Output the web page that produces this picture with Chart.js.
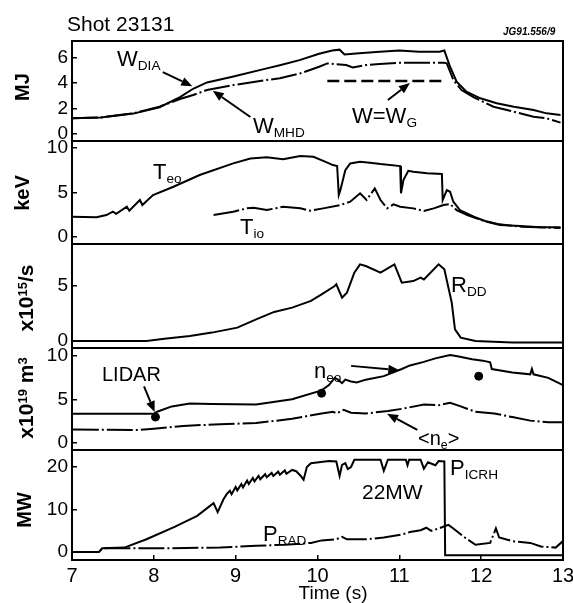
<!DOCTYPE html>
<html><head><meta charset="utf-8">
<script src="https://cdn.jsdelivr.net/npm/chart.js@4.4.1/dist/chart.umd.min.js"></script>
<style>
html,body{margin:0;padding:0;background:#fff;}
#wrap{position:relative;width:573px;height:603px;overflow:hidden;background:#fff;font-family:"Liberation Sans",Arial,Helvetica,sans-serif;color:#000;}
canvas{position:absolute;left:0;}
.t{position:absolute;white-space:nowrap;line-height:1;font-size:21px;}
.yt{position:absolute;white-space:nowrap;line-height:1;font-weight:bold;font-size:20px;transform:translate(-50%,-50%) rotate(-90deg);}
.t sub{font-size:0.62em;vertical-align:-0.3em;}
.yt sup{font-size:0.62em;vertical-align:0.45em;}
</style></head>
<body><div id="wrap">
<canvas id="c1"></canvas><canvas id="c2"></canvas><canvas id="c3"></canvas><canvas id="c4"></canvas><canvas id="c5"></canvas>
<div class="t" style="left:67px;top:13px;font-size:21px;">Shot 23131</div>
<div class="t" style="left:503px;top:27px;font-size:10px;font-weight:bold;font-style:italic;">JG91.556/9</div>
<div class="t" style="left:117px;top:48px;font-size:22px;">W<sub>DIA</sub></div>
<div class="t" style="left:253px;top:115px;font-size:22px;">W<sub>MHD</sub></div>
<div class="t" style="left:352px;top:105px;font-size:22px;">W=W<sub>G</sub></div>
<div class="t" style="left:153px;top:161px;font-size:22px;">T<sub>eo</sub></div>
<div class="t" style="left:240px;top:216px;font-size:22px;">T<sub>io</sub></div>
<div class="t" style="left:451px;top:274px;font-size:22px;">R<sub>DD</sub></div>
<div class="t" style="left:102px;top:364px;font-size:20px;">LIDAR</div>
<div class="t" style="left:314px;top:360px;font-size:22px;">n<sub>eo</sub></div>
<div class="t" style="left:418px;top:428px;font-size:20px;">&lt;n<sub>e</sub>&gt;</div>
<div class="t" style="left:450px;top:457px;font-size:22px;">P<sub>ICRH</sub></div>
<div class="t" style="left:362px;top:481px;font-size:21px;">22MW</div>
<div class="t" style="left:263px;top:523px;font-size:22px;">P<sub>RAD</sub></div>
<div class="t" style="left:333px;top:583px;font-size:19px;transform:translateX(-50%);">Time (s)</div>
<div class="yt" style="left:22px;top:87px;">MJ</div>
<div class="yt" style="left:22px;top:193px;">keV</div>
<div class="yt" style="left:25px;top:298px;font-size:21px;">x10<sup>15</sup>/s</div>
<div class="yt" style="left:25px;top:398px;font-size:21px;">x10<sup>19</sup> m<sup>3</sup></div>
<div class="yt" style="left:24px;top:510px;">MW</div>
</div>
<script>
// ---------------- data ----------------
const xTicks = [7, 8, 9, 10, 11, 12, 13];
const mjTicks = [0, 2, 4, 6];
const kevTicks = [0, 5, 10];
const rddTicks = [0, 5];
const neTicks = [0, 5, 10];
const mwTicks = [0, 10, 20];

const wDiaT = [7.0,7.35,7.75,8.07,8.32,8.48,8.65,8.96,9.38,9.54,9.78,10.02,10.18,10.27,10.33,10.51,10.76,11.0,11.24,11.49,11.55,11.62,11.70,11.82,11.99,12.19,12.40,12.64,12.80,12.97];
const wDiaV = [1.24,1.30,1.60,2.10,2.90,3.55,4.05,4.50,5.15,5.40,5.80,6.30,6.55,6.62,6.25,6.33,6.45,6.55,6.45,6.45,6.55,5.28,4.10,3.32,2.80,2.41,2.14,1.88,1.62,1.49];
const wMhdT = [7.0,7.35,7.75,8.07,8.32,8.48,8.65,8.97,9.38,9.54,9.79,10.02,10.12,10.35,10.43,10.59,10.76,11.0,11.55,11.58,11.66,11.76,11.91,12.15,12.40,12.64,12.80,12.97];
const wMhdV = [1.24,1.30,1.62,2.15,2.75,3.06,3.45,3.84,4.24,4.37,4.76,5.28,5.54,5.41,5.23,5.41,5.49,5.59,5.59,5.55,4.24,3.45,2.88,2.14,1.75,1.36,1.23,0.89];
const wgT = [10.12, 11.53];
const wgV = [4.16, 4.16];

const teT = [7.0,7.30,7.42,7.50,7.54,7.67,7.70,7.83,7.86,7.99,8.24,8.56,8.97,9.18,9.38,9.58,9.79,9.95,10.07,10.19,10.24,10.26,10.28,10.34,10.40,10.52,10.64,10.77,11.01,11.02,11.05,11.11,11.17,11.34,11.52,11.53,11.58,11.62,11.66,11.74,11.91,12.07,12.23,12.48,12.72,12.97];
const teV = [2.28,2.21,2.47,2.85,2.60,3.40,2.96,4.16,3.60,4.72,5.65,6.97,8.28,8.84,8.96,8.75,9.10,9.02,8.57,8.09,7.98,4.72,5.28,7.53,8.28,8.46,8.35,8.20,7.98,4.91,6.40,7.45,7.34,7.16,7.08,4.16,5.28,5.09,3.97,3.03,2.28,1.72,1.35,1.24,1.09,1.09];
const tiT = [8.73,8.97,9.14,9.22,9.38,9.58,9.79,9.91,10.07,10.28,10.40,10.52,10.60,10.70,10.77,10.85,10.93,11.01,11.17,11.30,11.42,11.54,11.62,11.70,11.83,12.0,12.2,12.5,12.97];
const tiV = [2.47,2.84,3.22,3.29,3.03,3.40,3.22,2.96,3.22,3.60,3.97,4.91,4.16,5.47,4.16,3.22,3.67,3.40,3.22,2.92,3.22,3.60,3.71,3.03,2.47,1.90,1.45,1.15,1.00];

const rddT = [7.01,7.91,8.13,8.44,8.71,9.02,9.25,9.47,9.69,9.92,10.05,10.21,10.23,10.30,10.36,10.45,10.52,10.59,10.77,10.94,11.03,11.17,11.26,11.30,11.48,11.55,11.64,11.68,11.75,11.93,12.38,13.0];
const rddV = [0,0,0.21,0.45,0.76,1.21,1.97,2.64,3.03,3.64,4.24,5.0,5.15,3.94,4.39,6.21,6.97,6.82,6.21,6.97,5.3,5.45,5.76,5.6,6.97,6.52,3.5,1.06,0.3,0,-0.15,-0.15];

const ne0T = [7.0,8.0,8.04,8.22,8.44,8.71,9.25,9.69,10.05,10.14,10.21,10.25,10.30,10.34,10.41,10.48,10.59,10.81,11.03,11.13,11.30,11.44,11.62,11.71,11.89,12.02,12.11,12.13,12.38,12.60,12.62,12.64,12.82,13.0];
const ne0V = [3.35,3.35,3.59,4.2,4.53,4.49,4.41,5.02,6.04,6.65,7.47,7.27,6.86,7.27,7.06,6.94,7.27,7.67,8.49,8.90,9.31,9.71,10.1,9.95,9.6,9.45,9.25,8.49,8.08,7.88,8.49,7.88,7.47,6.65];
const lidarT = [8.02, 10.05, 11.97];
const lidarV = [2.98, 5.71, 7.67];
const neAvT = [7.01,7.82,8.0,8.36,8.81,9.25,9.69,10.05,10.19,10.23,10.32,10.41,10.59,10.86,11.03,11.30,11.48,11.62,11.75,11.93,12.16,12.38,12.60,12.82,13.0];
const neAvV = [1.55,1.5,1.63,1.96,2.16,2.29,2.78,3.39,3.59,3.39,3.8,3.47,3.39,3.67,3.92,4.41,4.33,4.61,4.2,3.59,3.39,2.98,2.57,2.37,2.37];

const picrhT = [7.0,7.33,7.37,7.64,7.91,8.26,8.53,8.73,8.78,8.85,8.89,8.93,8.95,9.0,9.02,9.07,9.09,9.14,9.16,9.21,9.23,9.28,9.30,9.36,9.38,9.44,9.46,9.52,9.54,9.60,9.62,9.69,9.74,9.79,9.83,9.87,9.92,10.14,10.23,10.27,10.30,10.34,10.37,10.41,10.45,10.77,10.81,10.86,11.08,11.10,11.12,11.26,11.30,11.35,11.44,11.48,11.55,11.56,11.62,13.0];
const picrhV = [0,0,0.85,1.02,2.98,5.96,8.51,11.49,9.36,12.34,13.6,14.4,13.6,15.3,14.5,16.0,15.2,16.8,16.0,17.4,16.6,17.9,17.1,18.3,17.6,18.6,17.9,18.9,18.2,19.2,18.4,19.3,19.0,18.0,17.0,20.0,20.9,21.4,21.3,17.9,20.5,20.9,19.5,20.0,21.7,21.7,19.1,21.7,21.7,20.4,21.7,21.7,19.6,21.1,20.4,21.4,21.3,-0.8,-0.8,-0.8];
const pradT = [7.0,7.33,7.37,7.91,8.09,8.81,9.25,9.60,9.92,10.05,10.23,10.30,10.36,10.59,10.81,11.03,11.13,11.26,11.33,11.39,11.48,11.60,11.66,11.80,11.93,12.11,12.18,12.22,12.38,12.60,12.73,12.91,13.0];
const pradV = [0,0,0.85,0.85,0.85,1.02,1.45,1.70,2.13,2.72,2.98,3.57,2.98,2.98,3.40,4.09,4.68,5.11,5.70,4.94,5.53,6.38,5.53,3.40,1.70,2.13,5.53,3.40,2.55,2.13,1.28,1.02,2.55];

// ---------------- layout / style ----------------
Chart.defaults.font.family = "'Liberation Sans', Arial, Helvetica, sans-serif";
Chart.defaults.color = '#000';
Chart.defaults.animation = false;

const panels = [
  {id:'c1', top:41,  bottom:141, min:-0.55, max:7.3,  ticks:mjTicks},
  {id:'c2', top:141, bottom:244, min:-0.79, max:10.8, ticks:kevTicks},
  {id:'c3', top:244, bottom:348, min:-0.64, max:8.82, ticks:rddTicks},
  {id:'c4', top:348, bottom:450, min:-0.8,  max:10.9, ticks:neTicks},
  {id:'c5', top:450, bottom:560, min:-1.9,  max:24,   ticks:mwTicks}
];
const PAD = 14, LEFT = 72, RIGHT_PAD = 10, W = 573, H = 603;
const DASHDOT = [26, 3, 2, 3];

function zip(ts, vs) { return ts.map((t, i) => ({x: t, y: vs[i]})); }
function line(ts, vs, dash) {
  return {data: zip(ts, vs), borderColor: '#000', borderWidth: 2, borderDash: dash || [],
          pointRadius: 0, tension: 0, fill: false};
}
const framePlugin = {id: 'frame', afterDraw(chart) {
  const {ctx, chartArea: a} = chart;
  ctx.save(); ctx.strokeStyle = '#000'; ctx.lineWidth = 2;
  ctx.strokeRect(a.left, a.top, a.right - a.left, a.bottom - a.top); ctx.restore();
}};
function arrowPlugin(list) {
  return {id: 'arrows', afterDatasetsDraw(chart) {
    const xs = chart.scales.x, ys = chart.scales.y, ctx = chart.ctx;
    ctx.save(); ctx.strokeStyle = '#000'; ctx.fillStyle = '#000'; ctx.lineWidth = 2;
    list.forEach(a => {
      const x1 = xs.getPixelForValue(a[0]), y1 = ys.getPixelForValue(a[1]);
      const x2 = xs.getPixelForValue(a[2]), y2 = ys.getPixelForValue(a[3]);
      const ang = Math.atan2(y2 - y1, x2 - x1), L = 11, Wd = 4.5;
      const bx = x2 - L * Math.cos(ang), by = y2 - L * Math.sin(ang);
      ctx.beginPath(); ctx.moveTo(x1, y1); ctx.lineTo(bx, by); ctx.stroke();
      ctx.beginPath(); ctx.moveTo(x2, y2);
      ctx.lineTo(bx - Wd * Math.sin(ang), by + Wd * Math.cos(ang));
      ctx.lineTo(bx + Wd * Math.sin(ang), by - Wd * Math.cos(ang));
      ctx.closePath(); ctx.fill();
    });
    ctx.restore();
  }};
}

function makePanel(p, datasets, arrows, isLast) {
  const cv = document.getElementById(p.id);
  const top = p.top - PAD;
  const h = isLast ? (H - top) : (p.bottom - p.top + 2 * PAD);
  cv.width = W; cv.height = h; cv.style.top = top + 'px';
  cv.style.width = W + 'px'; cv.style.height = h + 'px';
  return new Chart(cv, {
    type: 'line',
    data: {datasets},
    options: {
      responsive: false, animation: false, devicePixelRatio: 1,
      layout: {padding: {top: PAD, bottom: isLast ? 0 : PAD, left: 0, right: RIGHT_PAD}},
      plugins: {legend: {display: false}, tooltip: {enabled: false}},
      scales: {
        x: {type: 'linear', min: 7, max: 13, display: isLast,
            afterBuildTicks: s => { s.ticks = xTicks.map(v => ({value: v})); },
            afterFit: s => { s.height = isLast ? (H - p.bottom) : 0; s.paddingLeft = 0; s.paddingRight = 0; },
            grid: {drawOnChartArea: false, tickLength: -5, lineWidth: 1.5, color: '#000'},
            border: {display: false},
            ticks: {font: {size: 20}, padding: 9, maxRotation: 0, autoSkip: false, color: '#000'}},
        y: {type: 'linear', min: p.min, max: p.max,
            afterBuildTicks: s => { s.ticks = p.ticks.map(v => ({value: v})); },
            afterFit: s => { s.width = LEFT; s.paddingTop = 0; s.paddingBottom = 0; },
            grid: {drawOnChartArea: false, tickLength: -5, lineWidth: 1.5, color: '#000'},
            border: {display: false},
            ticks: {font: {size: 19}, padding: 9, autoSkip: false, color: '#000'}}
      }
    },
    plugins: [framePlugin, arrowPlugin(arrows)]
  });
}

makePanel(panels[0], [line(wDiaT, wDiaV), line(wMhdT, wMhdV, DASHDOT),
  Object.assign(line(wgT, wgV, [12, 5]), {borderWidth: 2.5})],
  [[8.11, 4.86, 8.47, 3.75], [9.18, 1.33, 8.72, 3.40], [10.86, 2.67, 11.13, 4.0]], false);
makePanel(panels[1], [line(teT, teV), line(tiT, tiV, DASHDOT)], [], false);
makePanel(panels[2], [line(rddT, rddV)], [], false);
makePanel(panels[3], [line(ne0T, ne0V), line(neAvT, neAvV, DASHDOT),
  {data: zip(lidarT, lidarV), showLine: false, pointRadius: 4, pointBackgroundColor: '#000', pointBorderColor: '#000', borderColor: '#000'}],
  [[7.88, 6.5, 8.01, 3.55], [10.41, 8.85, 11.0, 8.35], [11.22, 1.5, 10.85, 3.35]], false);
makePanel(panels[4], [line(picrhT, picrhV), line(pradT, pradV, DASHDOT)], [], true);
</script>
</body></html>
